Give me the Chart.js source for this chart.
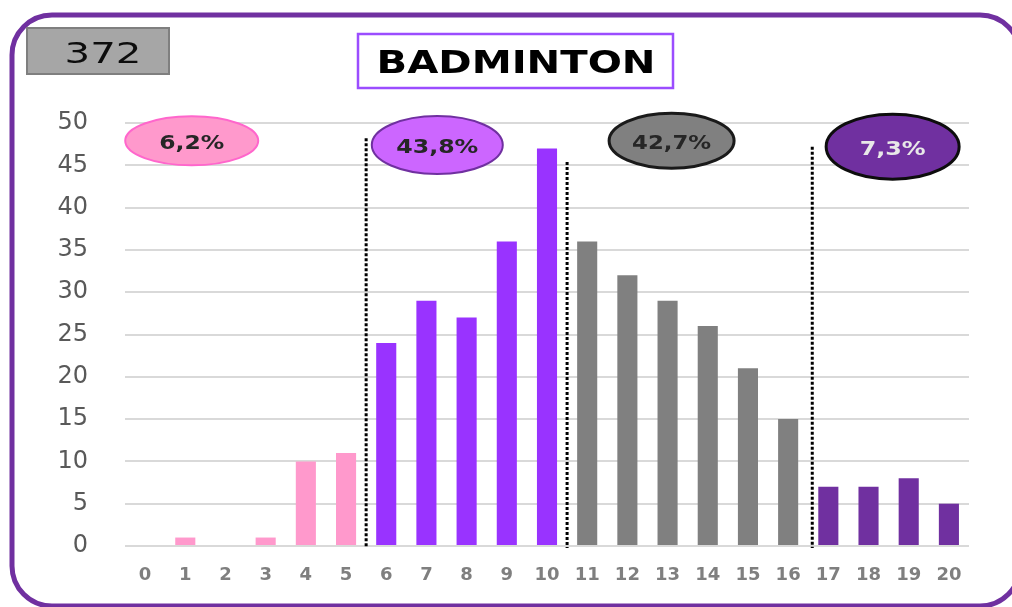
<!DOCTYPE html>
<html>
<head>
<meta charset="utf-8">
<script src="https://cdn.jsdelivr.net/npm/chart.js@4/dist/chart.umd.min.js"></script>
<style>
  html, body { margin: 0; padding: 0; background: #ffffff; }
  #wrap { width: 1012px; height: 607px; }
</style>
</head>
<body>
<div id="wrap"><canvas id="c" width="1012" height="607"></canvas></div>
<script>
// ---- data ----
const categories = ['0','1','2','3','4','5','6','7','8','9','10','11','12','13','14','15','16','17','18','19','20'];
const counts = [0, 1, 0, 1, 10, 11, 24, 29, 27, 36, 47, 36, 32, 29, 26, 21, 15, 7, 7, 8, 5];
const groupOf = [0, 0, 0, 0, 0, 0, 1, 1, 1, 1, 1, 2, 2, 2, 2, 2, 2, 3, 3, 3, 3];
const groupShares = ['6,2%', '43,8%', '42,7%', '7,3%'];
const totalLabel = '372';
const titleText = 'BADMINTON';
const yMin = 0, yMax = 50, yStep = 5;
const dividerAt = [5.5, 10.5, 16.6];
const dividerTop = [48.2, 45.4, 47.2];

// ---- styles ----
const barColors = ['#ff99cc', '#9933ff', '#808080', '#7030a0'];
const bubbleStyle = [
  { x: 1.16, y: 47.9, w: 133, h: 49, fill: '#ff99cc', stroke: '#ff66cc', lw: 2, text: '#262626', tw: 65 },
  { x: 7.27, y: 47.4, w: 131, h: 58, fill: '#cc66ff', stroke: '#7030a0', lw: 2, text: '#262626', tw: 82 },
  { x: 13.1, y: 47.9, w: 125, h: 55, fill: '#808080', stroke: '#1a1a1a', lw: 3, text: '#262626', tw: 79 },
  { x: 18.6, y: 47.2, w: 133, h: 65, fill: '#7030a0', stroke: '#0d0d0d', lw: 3, text: '#e8e8e8', tw: 66 }
];

function drawStretched(ctx, txt, cx, baseline, font, color, targetW) {
  ctx.save();
  ctx.font = font;
  const w = ctx.measureText(txt).width;
  const sx = targetW / w;
  ctx.translate(cx, baseline);
  ctx.scale(sx, 1);
  ctx.fillStyle = color;
  ctx.textAlign = 'center';
  ctx.textBaseline = 'alphabetic';
  ctx.fillText(txt, 0, 0);
  ctx.restore();
}

const decorPlugin = {
  id: 'decor',
  beforeDraw(chart) {
    const ctx = chart.ctx;
    ctx.save();
    ctx.fillStyle = '#ffffff';
    ctx.fillRect(0, 0, chart.width, chart.height);
    // outer frame
    ctx.strokeStyle = '#7030a0';
    ctx.lineWidth = 5;
    ctx.beginPath();
    ctx.roundRect(12, 15, 1008, 591, 40);
    ctx.stroke();
    // total box
    ctx.fillStyle = '#a6a6a6';
    ctx.fillRect(27, 28, 142, 46);
    ctx.strokeStyle = '#7f7f7f';
    ctx.lineWidth = 2;
    ctx.strokeRect(27, 28, 142, 46);
    // title box
    ctx.fillStyle = '#ffffff';
    ctx.fillRect(358, 34, 315, 54);
    ctx.strokeStyle = '#9b4dff';
    ctx.lineWidth = 2.5;
    ctx.strokeRect(358, 34, 315, 54);
    ctx.restore();
    drawStretched(ctx, totalLabel, 103, 63, '29px "DejaVu Sans"', '#0d0d0d', 77);
    drawStretched(ctx, titleText, 516, 73, 'bold 32px "DejaVu Sans"', '#000000', 279);
  },
  afterDatasetsDraw(chart) {
    const ctx = chart.ctx;
    const xs = chart.scales.x, ys = chart.scales.y;
    // dotted dividers
    ctx.save();
    ctx.strokeStyle = '#000000';
    ctx.lineWidth = 3;
    ctx.setLineDash([3, 2]);
    dividerAt.forEach((v, i) => {
      const px = xs.getPixelForValue(v);
      ctx.beginPath();
      ctx.moveTo(px, ys.getPixelForValue(dividerTop[i]));
      ctx.lineTo(px, chart.chartArea.bottom + 2);
      ctx.stroke();
    });
    ctx.restore();
    // share bubbles
    bubbleStyle.forEach((b, i) => {
      const cx = xs.getPixelForValue(b.x);
      const cy = ys.getPixelForValue(b.y);
      ctx.save();
      ctx.beginPath();
      ctx.ellipse(cx, cy, b.w / 2, b.h / 2, 0, 0, Math.PI * 2);
      ctx.fillStyle = b.fill;
      ctx.fill();
      ctx.lineWidth = b.lw;
      ctx.strokeStyle = b.stroke;
      ctx.stroke();
      ctx.restore();
      drawStretched(ctx, groupShares[i], cx, cy + 8, 'bold 20px "DejaVu Sans"', b.text, b.tw);
    });
  }
};

new Chart(document.getElementById('c'), {
  type: 'bar',
  data: {
    labels: categories,
    datasets: [{
      data: counts,
      backgroundColor: groupOf.map(g => barColors[g]),
      borderWidth: 0,
      barPercentage: 0.5,
      categoryPercentage: 1.0
    }]
  },
  options: {
    responsive: false,
    animation: false,
    devicePixelRatio: 1,
    layout: { padding: { left: 0, right: 43, top: 123, bottom: 0 } },
    plugins: { legend: { display: false }, tooltip: { enabled: false }, title: { display: false } },
    scales: {
      x: {
        type: 'category',
        offset: true,
        grid: { display: false, drawTicks: false },
        border: { display: false },
        ticks: {
          font: { family: 'DejaVu Sans', weight: 'bold', size: 18 },
          color: '#7f7f7f',
          padding: 19,
          maxRotation: 0,
          autoSkip: false
        },
        afterFit(s) { s.height = 61; }
      },
      y: {
        min: yMin,
        max: yMax,
        ticks: {
          stepSize: yStep,
          font: { family: 'DejaVu Sans', size: 24 },
          color: '#595959',
          padding: 37
        },
        grid: { color: '#d9d9d9', lineWidth: 2, drawTicks: false },
        border: { display: false },
        afterFit(s) { s.width = 125; }
      }
    }
  },
  plugins: [decorPlugin]
});
</script>
</body>
</html>
